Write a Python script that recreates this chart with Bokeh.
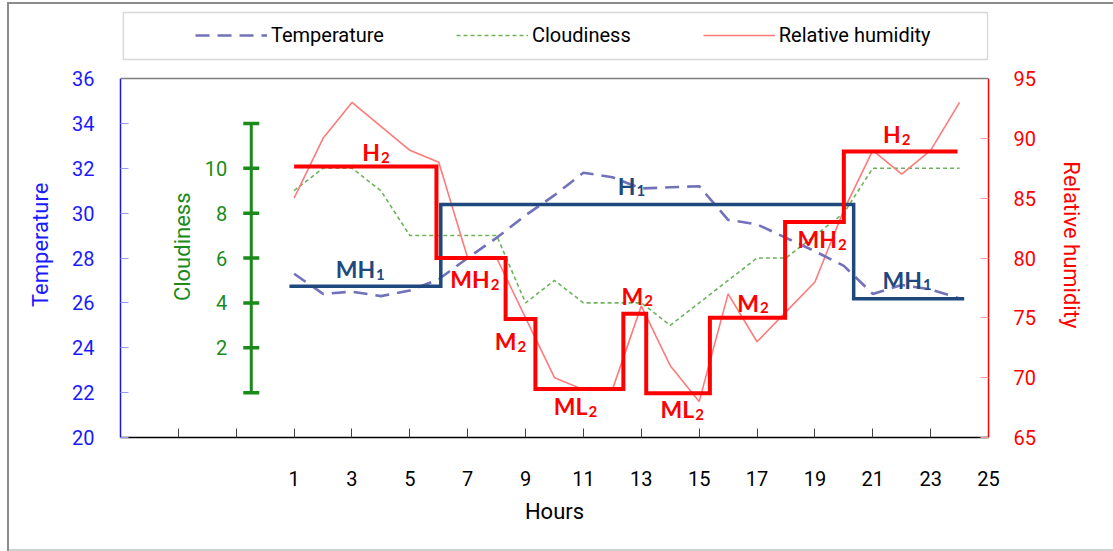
import math

from bokeh.core.properties import value
from bokeh.embed import file_html
from bokeh.models import (BoxAnnotation, ColumnDataSource, FixedTicker, Legend,
                          LegendItem, LinearAxis, Range1d, Span)
from bokeh.plotting import figure
from bokeh.resources import INLINE

# ---- hourly observations ----
hours = list(range(1, 25))
temperature = [27.3, 26.4, 26.5, 26.3, 26.55, 27.05, 28.0, 28.9, 29.9, 30.8, 31.8, 31.6,
               31.1, 31.15, 31.2, 29.7, 29.5, 28.9, 28.3, 27.65, 26.4, 26.8, 26.6, 26.2]
cloudiness = [9, 10, 10, 9, 7, 7, 7, 7, 4, 5, 4, 4, 4, 3, 4, 5, 6, 6, 7, 8, 10, 10, 10, 10]
humidity = [85, 90, 93, 91, 89, 88, 80, 80, 75, 70, 69, 69,
            76, 71, 68, 77, 73, 75.5, 78, 84, 89, 87, 89, 93]

# ---- humidity classes (index 2) over time: boundaries in hours, level in % ----
rh_edges = [1.0, 5.92, 8.31, 9.34, 12.38, 13.17, 15.37, 17.97, 20.0, 23.93]
rh_levels = [87.65, 80.0, 74.9, 69.05, 75.35, 68.7, 75.0, 83.0, 88.9]
rh_classes = ["H", "MH", "M", "ML", "M", "ML", "M", "MH", "H"]

# ---- temperature classes (index 1) ----
temp_edges = [0.84, 6.07, 20.34, 24.16]
temp_levels = [26.74, 30.38, 26.18]
temp_classes = ["MH", "H", "MH"]

# ---- axis extents and tick values ----
hour_span = (-5, 25)
temp_span = (20, 36)
rh_span = (65, 95)
cloud_span = (-2, 14)
x_ticks = [-3, -1] + list(range(1, 26, 2))
temp_ticks = list(range(20, 37, 2))
rh_ticks = list(range(65, 96, 5))
cloud_ticks = list(range(0, 13, 2))

# where each class label sits along its segment (hour) and its pixel offset
rh_label_hour = [3.97, 7.76, 8.69, 11.14, 13.07, 14.83, 17.07, 19.76, 21.97]
rh_label_dy = [-14, 21, 22, 17, -18, 16, -15, 17, -17]
temp_label_hour = [3.8, 12.8, 22.7]
temp_label_dy = [-17, -19, -19]

FONT = "Roboto"
LABEL_FONT = "Lato"
BLUE_AXIS = "#1a1aff"
RED = "#ff0000"
GREEN = "#1a8a1a"
NAVY = "#1f497d"
# axis titles are centred on the whole frame; no-break spaces on their upper
# end pull them back to the middle of the data area
TITLE_PAD = "\u00a0" * 8

# the frame reaches up over the legend strip: extra room above the data area
PLOT_H = 359
HEAD = 70 / PLOT_H


def with_head(span):
    lo, hi = span
    return Range1d(lo, hi + (hi - lo) * HEAD)


def step_path(edges, levels):
    xs, ys = [], []
    for i, lv in enumerate(levels):
        xs += [edges[i], edges[i + 1]]
        ys += [lv, lv]
    return xs, ys


p = figure(width=1113, height=551, x_range=Range1d(*hour_span), y_range=with_head(temp_span),
           output_backend="svg", toolbar_location=None,
           min_border_left=120, min_border_right=125, min_border_top=8,
           min_border_bottom=114)
p.extra_y_ranges = {"rh": with_head(rh_span), "cloud": with_head(cloud_span)}
p.xgrid.visible = False
p.ygrid.visible = False
p.outline_line_color = None
p.background_fill_color = "white"
# transparent margins so the page background (with the chart's outer rule) shows
p.border_fill_alpha = 0
rule = "linear-gradient(#8c8c8c, #8c8c8c)"
rule_light = "linear-gradient(#d0d0d0, #d0d0d0)"
p.styles = {
    "background-color": "white",
    "background-image": f"{rule}, {rule}, {rule_light}",
    "background-position": "7px 2px, 7px 2px, 7px 549px",
    "background-size": "2px 549px, 1106px 2px, 1106px 2px",
    "background-repeat": "no-repeat",
}

# top edge of the data area
p.add_layout(Span(location=temp_span[1], dimension="width", line_color="#7f7f7f",
                  line_width=1.5))

# ---- bottom axis ----
xa = p.xaxis[0]
xa.ticker = FixedTicker(ticks=x_ticks)
xa.major_label_overrides = {-3: "", -1: ""}
xa.major_tick_in = 9
xa.major_tick_out = 0
xa.minor_tick_line_color = None
xa.major_tick_line_color = "#404040"
xa.axis_line_color = "black"
xa.axis_line_width = 1.5
xa.major_label_standoff = 33
xa.major_label_text_font = FONT
xa.major_label_text_font_size = "20px"
xa.major_label_text_color = "black"
xa.axis_label = "Hours"
xa.axis_label_text_font = FONT
xa.axis_label_text_font_size = "22px"
xa.axis_label_text_font_style = "normal"
xa.axis_label_text_color = "black"
xa.axis_label_standoff = 10

# ---- left (temperature) axis ----
ya = p.yaxis[0]
ya.bounds = temp_span
ya.ticker = FixedTicker(ticks=temp_ticks)
ya.major_tick_in = 8
ya.major_tick_out = 0
ya.minor_tick_line_color = None
ya.major_tick_line_color = "#9a9aff"
ya.axis_line_color = "#1a1acc"
ya.axis_line_width = 1.5
ya.major_label_standoff = 26
ya.major_label_text_font = FONT
ya.major_label_text_font_size = "20px"
ya.major_label_text_color = BLUE_AXIS
ya.axis_label = "Temperature" + TITLE_PAD
ya.axis_label_text_font = FONT
ya.axis_label_text_font_size = "22px"
ya.axis_label_text_font_style = "normal"
ya.axis_label_text_color = BLUE_AXIS
ya.axis_label_standoff = 16

# ---- right (relative humidity) axis ----
ra = LinearAxis(y_range_name="rh", ticker=FixedTicker(ticks=rh_ticks), bounds=rh_span)
ra.major_tick_in = 8
ra.major_tick_out = 0
ra.minor_tick_line_color = None
ra.major_tick_line_color = "#ff9a9a"
ra.axis_line_color = RED
ra.axis_line_width = 1.5
ra.major_label_standoff = 25
ra.major_label_text_font = FONT
ra.major_label_text_font_size = "20px"
ra.major_label_text_color = RED
ra.axis_label = TITLE_PAD + "Relative humidity"
ra.axis_label_text_font = FONT
ra.axis_label_text_font_size = "22px"
ra.axis_label_text_font_style = "normal"
ra.axis_label_text_color = RED
ra.axis_label_standoff = 20
p.add_layout(ra, "right")

# ---- cloudiness scale drawn inside the plot ----
cloud_axis_x = -0.48
p.line([cloud_axis_x, cloud_axis_x], [cloud_ticks[0], cloud_ticks[-1]],
       y_range_name="cloud", line_color=GREEN, line_width=3)
p.scatter([cloud_axis_x] * len(cloud_ticks), cloud_ticks, y_range_name="cloud",
          marker="dash", size=16, line_color=GREEN, line_width=3.5)
cloud_lbl = cloud_ticks[1:-1]
p.text([cloud_axis_x] * len(cloud_lbl), cloud_lbl, text=[str(v) for v in cloud_lbl],
       y_range_name="cloud", x_offset=-24, text_align="right", text_baseline="middle",
       text_font=value(FONT), text_font_size="20px", text_color=GREEN)
p.text([cloud_axis_x], [6.5], text=["Cloudiness"], y_range_name="cloud", x_offset=-69,
       angle=math.pi / 2, text_align="center", text_baseline="middle",
       text_font=value(FONT), text_font_size="22px", text_color=GREEN)

# ---- observed series ----
r_cloud = p.line(hours, cloudiness, y_range_name="cloud", line_color="#6cb35c",
                 line_width=1.6, line_dash="4 3")
r_rh = p.line(hours, humidity, y_range_name="rh", line_color="#ff7a7a", line_width=1.6)
r_temp = p.line(hours, temperature, line_color="#7272bb", line_width=2.6,
                line_dash="14 8")

# ---- class step lines ----
sx, sy = step_path(temp_edges, temp_levels)
p.line(sx, sy, line_color=NAVY, line_width=3.5, line_join="miter")
sx, sy = step_path(rh_edges, rh_levels)
p.line(sx, sy, y_range_name="rh", line_color=RED, line_width=4, line_join="miter")


# ---- class labels with subscripts ----
def class_labels(names, label_hours, dys, levels, sub, color, range_name):
    src = ColumnDataSource(dict(
        x=label_hours,
        y=levels,
        main=names,
        sub=[sub] * len(names),
        dy=dys,
        dys=[d + 5 for d in dys],
    ))
    kw = dict(text_font=value(LABEL_FONT), text_font_style="bold", text_color=color,
              text_baseline="alphabetic")
    if range_name:
        kw["y_range_name"] = range_name
    p.text("x", "y", text="main", source=src, y_offset="dy", text_align="right",
           text_font_size="23px", **kw)
    p.text("x", "y", text="sub", source=src, y_offset="dys", x_offset=1,
           text_align="left", text_font_size="15px", **kw)


class_labels(rh_classes, rh_label_hour, rh_label_dy, rh_levels, "2", RED, "rh")
class_labels(temp_classes, temp_label_hour, temp_label_dy, temp_levels, "1", NAVY, None)

# ---- legend strip across the top ----
p.add_layout(BoxAnnotation(left=-4.9, right=24.97, bottom=36.85, top=38.94,
                           fill_color="white", fill_alpha=1,
                           line_color="#7f7f7f", line_width=1.5))
legend = Legend(items=[LegendItem(label="Temperature", renderers=[r_temp]),
                       LegendItem(label="Cloudiness", renderers=[r_cloud]),
                       LegendItem(label="Relative humidity", renderers=[r_rh])],
                orientation="horizontal", location=(75, 390), glyph_width=72,
                glyph_height=20, label_standoff=4, spacing=72, padding=0, margin=0,
                border_line_alpha=0, background_fill_alpha=0,
                label_text_font=FONT, label_text_font_size="20px",
                label_text_color="black")
p.add_layout(legend)

open("out.html", "w").write(file_html(p, INLINE))
